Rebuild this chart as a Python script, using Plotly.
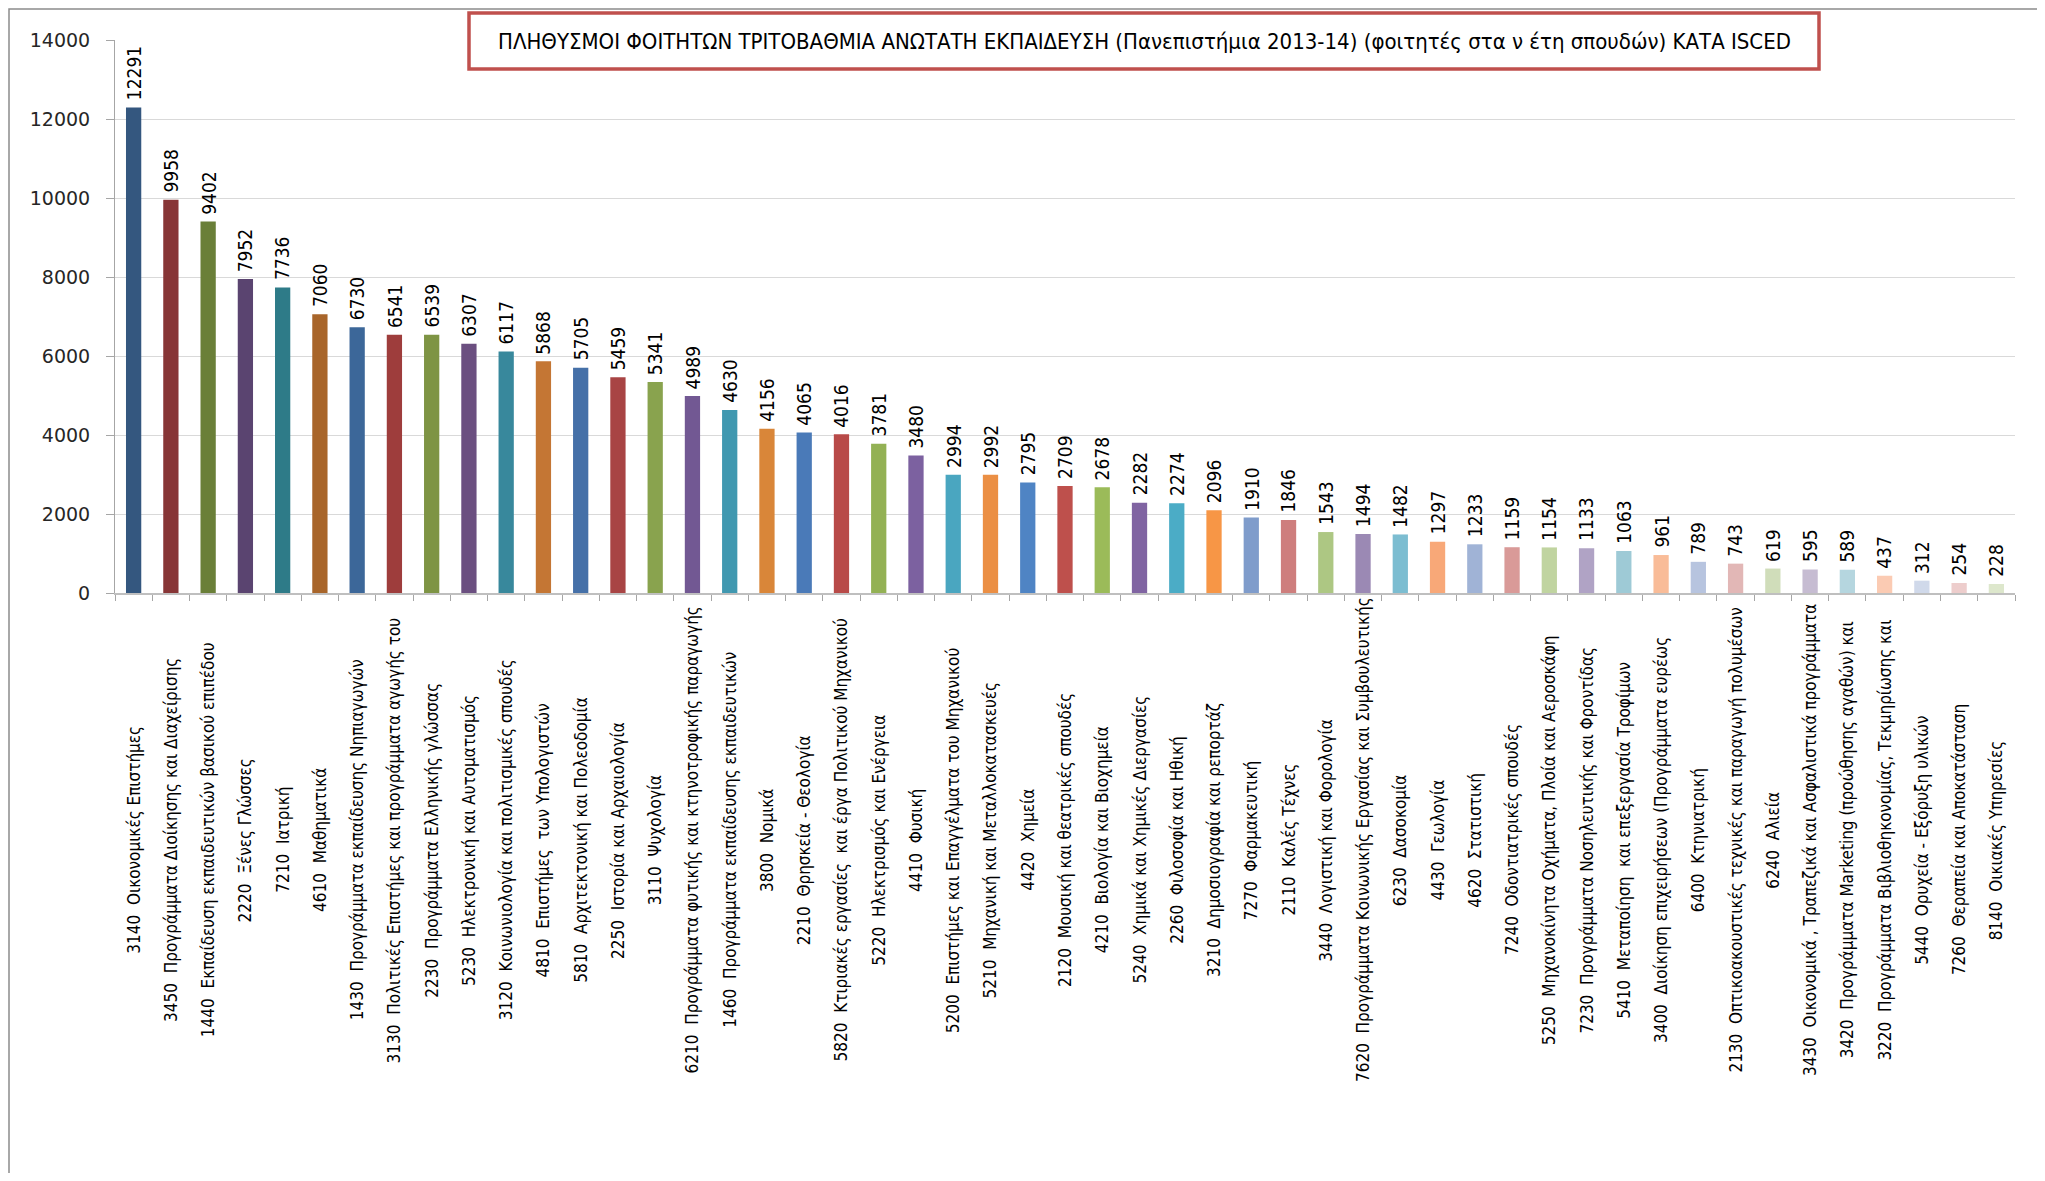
import plotly.graph_objects as go

categories = [
    "3140  Οικονομικές Επιστήμες",
    "3450  Προγράμματα Διοίκησης και Διαχείρισης",
    "1440  Εκπαίδευση εκπαιδευτικών βασικού επιπέδου",
    "2220  Ξένες Γλώσσες",
    "7210  Ιατρική",
    "4610  Μαθηματικά",
    "1430  Προγράμματα εκπαίδευσης Νηπιαγωγών",
    "3130  Πολιτικές Επιστήμες και προγράμματα αγωγής του",
    "2230  Προγράμματα Ελληνικής γλώσσας",
    "5230  Ηλεκτρονική και Αυτοματισμός",
    "3120  Κοινωνιολογία και πολιτισμικές σπουδές",
    "4810  Επιστήμες  των Υπολογιστών",
    "5810  Αρχιτεκτονική και Πολεοδομία",
    "2250  Ιστορία και Αρχαιολογία",
    "3110  Ψυχολογία",
    "6210  Προγράμματα φυτικής και κτηνοτροφικής παραγωγής",
    "1460  Προγράμματα εκπαίδευσης εκπαιδευτικών",
    "3800  Νομικά",
    "2210  Θρησκεία - Θεολογία",
    "5820  Κτιριακές εργασίες  και έργα Πολιτικού Μηχανικού",
    "5220  Ηλεκτρισμός και Ενέργεια",
    "4410  Φυσική",
    "5200  Επιστήμες και Επαγγέλματα του Μηχανικού",
    "5210  Μηχανική και Μεταλλοκατασκευές",
    "4420  Χημεία",
    "2120  Μουσική και θεατρικές σπουδές",
    "4210  Βιολογία και Βιοχημεία",
    "5240  Χημικά και Χημικές Διεργασίες",
    "2260  Φιλοσοφία και Ηθική",
    "3210  Δημοσιογραφία και ρεπορτάζ",
    "7270  Φαρμακευτική",
    "2110  Καλές Τέχνες",
    "3440  Λογιστική και Φορολογία",
    "7620  Προγράμματα Κοινωνικής Εργασίας και Συμβουλευτικής",
    "6230  Δασοκομία",
    "4430  Γεωλογία",
    "4620  Στατιστική",
    "7240  Οδοντιατρικές σπουδές",
    "5250  Μηχανοκίνητα Οχήματα, Πλοία και Αεροσκάφη",
    "7230  Προγράμματα Νοσηλευτικής και Φροντίδας",
    "5410  Μεταποίηση  και επεξεργασία Τροφίμων",
    "3400  Διοίκηση επιχειρήσεων (Προγράμματα ευρέως",
    "6400  Κτηνιατρική",
    "2130  Οπτικοακουστικές τεχνικές και παραγωγή πολυμέσων",
    "6240  Αλιεία",
    "3430  Οικονομικά , Τραπεζικά και Ασφαλιστικά προγράμματα",
    "3420  Προγράμματα Marketing (προώθησης αγαθών) και",
    "3220  Προγράμματα Βιβλιοθηκονομίας, Τεκμηρίωσης και",
    "5440  Ορυχεία - Εξόρυξη υλικών",
    "7260  Θεραπεία και Αποκατάσταση",
    "8140  Οικιακές Υπηρεσίες",
]

students = [12291, 9958, 9402, 7952, 7736, 7060, 6730, 6541, 6539, 6307,
            6117, 5868, 5705, 5459, 5341, 4989, 4630, 4156, 4065, 4016,
            3781, 3480, 2994, 2992, 2795, 2709, 2678, 2282, 2274, 2096,
            1910, 1846, 1543, 1494, 1482, 1297, 1233, 1159, 1154, 1133,
            1063, 961, 789, 743, 619, 595, 589, 437, 312, 254, 228]

bar_colors = [
    "#34577F", "#873536", "#6A7F38", "#5A4470", "#2E7B88", "#A8652A",
    "#3C6799", "#9E3D3C", "#7E9444", "#6B4F80", "#38889C", "#C47634",
    "#4570A8", "#A84444", "#89A34E", "#725893", "#4098B0", "#D98639",
    "#4A7AB8", "#B84A48", "#93B154", "#7C61A0", "#4AA6C0", "#EB8F44",
    "#4F84C4", "#BE504C", "#9BBB59", "#8064A2", "#4BACC6", "#F79646",
    "#7F9CCB", "#CE7E7D", "#ADC783", "#9B89B4", "#7CBDD1", "#F8A878",
    "#A0B3D6", "#D99A98", "#C0D4A0", "#B0A3C5", "#9ECAD6", "#F9BC98",
    "#B7C4DF", "#E2B7B6", "#D0DDBA", "#C6BCD2", "#B5D6DF", "#FBCBB3",
    "#D0D9EA", "#EDCDCC", "#DDE7CC",
]

y_ticks = [0, 2000, 4000, 6000, 8000, 10000, 12000, 14000]

title_text = ("ΠΛΗΘΥΣΜΟΙ ΦΟΙΤΗΤΩΝ ΤΡΙΤΟΒΑΘΜΙΑ ΑΝΩΤΑΤΗ ΕΚΠΑΙΔΕΥΣΗ "
              "(Πανεπιστήμια 2013-14) (φοιτητές στα ν έτη σπουδών) ΚΑΤΑ ISCED")

NARROW = "Liberation Sans Narrow, DejaVu Sans Condensed, Arial Narrow, sans-serif"

# The page body has an 8px margin; work in page pixel coordinates.
OFF = 8
FIG_W, FIG_H = 2045 - 2 * OFF, 1181 - 2 * OFF
# plot area in page pixels
L, R, T, B = 115, 2015, 40, 593
W, H = R - L, B - T


def px(x):
    return (x - L) / W


def py(y):
    return (B - y) / H


fig = go.Figure()
fig.add_trace(go.Bar(
    x=categories,
    y=students,
    marker=dict(color=bar_colors, line=dict(width=0)),
    cliponaxis=False,
    hoverinfo="x+y",
))

annotations = []
# value labels above the bars
for c, v in zip(categories, students):
    annotations.append(dict(
        x=c, xref="x", y=v, yref="y",
        text=str(v), textangle=-90, showarrow=False,
        xanchor="center", yanchor="bottom", yshift=5,
        font=dict(family=NARROW, size=19, color="#000000"),
    ))
# category labels (centered in the label band)
for c in categories:
    annotations.append(dict(
        x=c, xref="x", y=py(840), yref="paper",
        text=c, textangle=-90, showarrow=False,
        xanchor="center", yanchor="middle",
        font=dict(family=NARROW, size=17, color="#000000"),
    ))

annotations.append(dict(
    x=px(1144), xref="paper", y=py(41), yref="paper",
    text=title_text, showarrow=False,
    xanchor="center", yanchor="middle",
    font=dict(family=NARROW, size=22, color="#000000"),
))

shapes = [
    dict(type="rect", xref="paper", yref="paper",
         x0=px(9), x1=px(2070), y0=py(1200), y1=py(9),
         line=dict(color="#8C8C8C", width=1.5), fillcolor="rgba(0,0,0,0)",
         layer="below"),
    dict(type="rect", xref="paper", yref="paper",
         x0=px(469), x1=px(1819), y0=py(69), y1=py(13),
         line=dict(color="#C0504D", width=3.5), fillcolor="#FFFFFF",
         layer="above"),
]

fig.update_layout(
    width=FIG_W, height=FIG_H,
    margin=dict(l=L - OFF, r=FIG_W - (R - OFF), t=T - OFF, b=FIG_H - (B - OFF),
                autoexpand=False),
    paper_bgcolor="#FFFFFF",
    plot_bgcolor="#FFFFFF",
    showlegend=False,
    bargap=0.59,
    annotations=annotations,
    shapes=shapes,
    xaxis=dict(
        type="category",
        range=[-0.5, len(categories) - 0.5],
        showticklabels=False,
        showline=True, linecolor="#BFBFBF", linewidth=2,
        ticks="outside", tickson="boundaries", ticklen=6,
        tickcolor="#A6A6A6", tickwidth=1,
        showgrid=False, zeroline=False, fixedrange=True,
    ),
    yaxis=dict(
        range=[0, 14000],
        tickvals=y_ticks,
        ticktext=[str(v) for v in y_ticks],
        showgrid=True, gridcolor="#D9D9D9", gridwidth=1,
        showline=True, linecolor="#A6A6A6", linewidth=1,
        ticks="outside", ticklen=8, tickcolor="#A6A6A6",
        ticklabelstandoff=12,
        tickfont=dict(family="DejaVu Sans, Verdana, sans-serif", size=19, color="#262626"),
        zeroline=False, fixedrange=True,
    ),
)

fig.write_html("out.html")
